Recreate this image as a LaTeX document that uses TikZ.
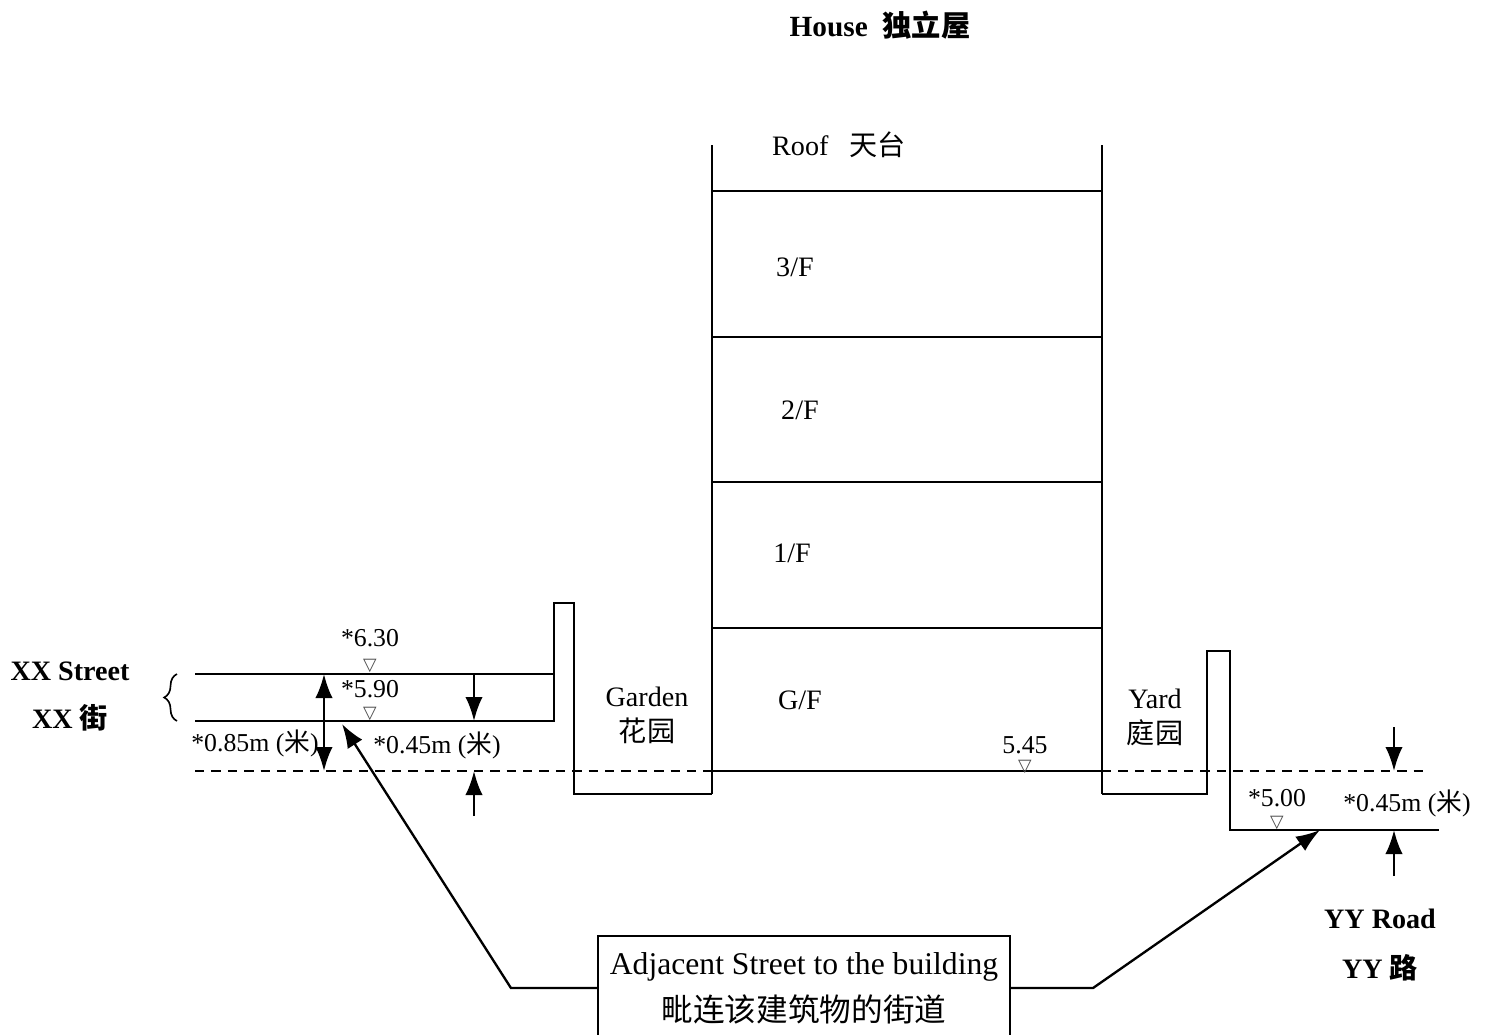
\documentclass[tikz,border=0pt]{standalone}
\usepackage{fontspec}
\setmainfont{Liberation Serif}
\newfontfamily\cjk{Noto Sans CJK SC}
\newfontfamily\symfont{DejaVu Sans}
\usetikzlibrary{arrows.meta,decorations.pathreplacing,positioning}
\tikzset{
  wall/.style={line width=0.9pt},
  datum/.style={line width=0.8pt,dash pattern=on 4pt off 3pt},
  dimarrow/.style={-{Latex[length=3.6mm,width=2.6mm]},line width=1pt},
  dimboth/.style={{Latex[length=3.6mm,width=2.6mm]}-{Latex[length=3.6mm,width=2.6mm]},line width=1pt},
  lbl/.style={font=\fontsize{12}{15}\selectfont,inner sep=0pt,align=center},
  namelbl/.style={font=\bfseries\fontsize{12}{15}\selectfont,inner sep=0pt},
  lvl/.style={font=\fontsize{11}{13}\selectfont,inner sep=0pt},
  lvlmark/.style={font=\symfont\fontsize{7.5}{8}\selectfont,text=black!70,inner sep=0pt}
}
\begin{document}
\begin{tikzpicture}[x=0.015cm,y=-0.015cm]
        \useasboundingbox (0,0) rectangle (1486,1035);

        % Title
        \node[namelbl,font=\bfseries\fontsize{12.5}{15}\selectfont] (title) at (880,25) {House~~{\cjk\bfseries 独立屋}};

        % Building
        \draw [wall] (712,145) -- (712,794);
        \draw [wall] (1102,145) -- (1102,794);
        \foreach \y in {191,337,482,628,771}
            \draw [wall] (712,\y) -- (1102,\y);
        \node[lbl] (roof) at (839,145) {Roof~~~{\cjk 天台}};
        \node[lbl] (f3) at (795,267) {3/F};
        \node[lbl] (f2) at (800,410) {2/F};
        \node[lbl] (f1) at (792,553) {1/F};
        \node[lbl] (gf) at (800,700) {G/F};
        \node[lvl] (l545) at (1025,745) {5.45};
        \node[lvlmark] (m545) at (1025,767) {▽};

        % Garden and XX Street
        \draw [wall] (195,674) -- (554,674);
        \draw [wall] (195,721) -- (554,721) -- (554,603) -- (574,603) -- (574,794) -- (712,794);
        \draw [datum] (195,771) -- (712,771);
        \node[lbl] (garden) at (647,715) {Garden\\{\cjk 花园}};
        \draw [decorate,decoration={brace,amplitude=5.5pt},line width=0.7pt] (177,721) -- (177,674);
        \node[namelbl] (xx) at (70,671) {XX Street};
        \node[namelbl] (xxcn) at (70,718) {XX {\cjk\bfseries 街}};
        \node[lvl] (l630) at (370,638) {*6.30};
        \node[lvlmark] (m630) at (370,666) {▽};
        \node[lvl] (l590) at (370,689) {*5.90};
        \node[lvlmark] (m590) at (370,714) {▽};
        \draw [dimboth] (324,674) -- (324,771);
        \draw [dimarrow] (474,674) -- (474,721);
        \draw [dimarrow] (474,816) -- (474,771);
        \node[lvl] (d085) at (255,743) {*0.85m ({\cjk 米})};
        \node[lvl] (d045) at (437,745) {*0.45m ({\cjk 米})};

        % Yard and YY Road
        \draw [wall] (1102,794) -- (1207,794) -- (1207,651) -- (1230,651) -- (1230,830) -- (1439,830);
        \draw [datum] (1102,771) -- (1430,771);
        \node[lbl] (yard) at (1155,717) {Yard\\{\cjk 庭园}};
        \node[lvl] (l500) at (1277,798) {*5.00};
        \node[lvlmark] (m500) at (1277,823) {▽};
        \draw [dimarrow] (1394,727) -- (1394,771);
        \draw [dimarrow] (1394,876) -- (1394,830);
        \node[lvl] (r045) at (1407,803) {*0.45m ({\cjk 米})};
        \node[namelbl] (yy) at (1380,919) {YY Road};
        \node[namelbl] (yycn) at (1380,968) {YY {\cjk\bfseries 路}};

        % Adjacent street
        \node[draw,wall,minimum width=6.18cm,minimum height=1.55cm,align=center,
              font=\fontsize{13.5}{20}\selectfont] (adj) at (804,988)
              {Adjacent Street to the building\\{\cjk 毗连该建筑物的街道}};
        \coordinate (xxtip) at (342,724);
        \coordinate (yytip) at (1320,830);
        \draw [dimarrow] (adj.west) -- ++(-86,0) -- (xxtip);
        \draw [dimarrow] (adj.east) -- ++(82,0) -- (yytip);
    \end{tikzpicture}
\end{document}
